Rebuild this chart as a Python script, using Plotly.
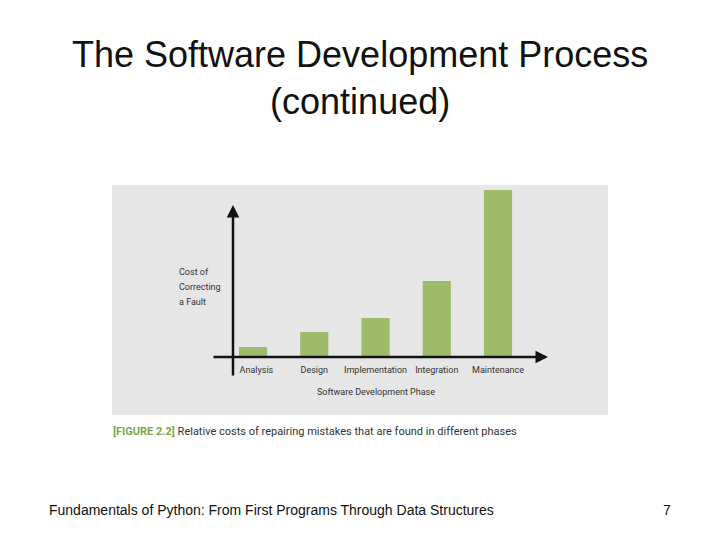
import plotly.graph_objects as go

phases = ["Analysis", "Design", "Implementation", "Integration", "Maintenance"]
tick_labels = ["\u00a0\u00a0\u00a0Analysis", "Design", "Implementation", "Integration", "Maintenance"]
costs = [10, 25, 39, 76, 167]
ylabel_lines = ["Cost of", "Correcting", "a Fault"]

W, H = 720, 540

def px(x):
    return x / W

def py(y):
    return 1 - y / H

fig = go.Figure()
fig.add_trace(go.Bar(
    x=list(range(len(phases))), y=costs,
    marker=dict(color="#9dbb68", line=dict(width=0)),
    width=0.46, hoverinfo="skip",
))

small_font = dict(family="Liberation Sans Narrow, Roboto, sans-serif", size=9, color="#333333")

fig.update_layout(
    width=W, height=H,
    margin=dict(l=0, r=0, t=0, b=0),
    paper_bgcolor="white", plot_bgcolor="rgba(0,0,0,0)",
    showlegend=False,
    font=dict(family="Liberation Sans, Arial, sans-serif"),
    xaxis=dict(
        domain=[px(212), px(547)], range=[-0.67, 4.8],
        tickmode="array", tickvals=list(range(len(phases))), ticktext=tick_labels,
        tickfont=small_font,
        showgrid=False, zeroline=False, showline=False, ticks="", ticklabelstandoff=6,
        fixedrange=True,
    ),
    yaxis=dict(
        domain=[py(357), py(185)], range=[0, 172],
        showgrid=False, zeroline=False, showline=False, showticklabels=False, ticks="",
        fixedrange=True,
    ),
    shapes=[
        dict(type="rect", xref="paper", yref="paper",
             x0=px(112), x1=px(608), y0=py(415), y1=py(185),
             fillcolor="#e6e6e6", line=dict(width=0), layer="below"),
    ],
)

ann = []
# axis arrows
ann.append(dict(xref="paper", yref="paper", x=px(548), y=py(357), ax=-336, ay=0,
                showarrow=True, arrowhead=2, arrowsize=1.0, arrowwidth=2.5,
                arrowcolor="#111111", text=""))
ann.append(dict(xref="paper", yref="paper", x=px(233), y=py(205), ax=0, ay=172,
                showarrow=True, arrowhead=2, arrowsize=1.0, arrowwidth=2.5,
                arrowcolor="#111111", text=""))
# y label lines
for i, line in enumerate(ylabel_lines):
    ann.append(dict(xref="paper", yref="paper", x=px(177), y=py(272 + 15 * i),
                    xanchor="left", yanchor="middle", text=line, showarrow=False,
                    font=small_font))
# x title
ann.append(dict(xref="paper", yref="paper", x=px(376), y=py(392), xanchor="center", yanchor="middle",
                text="Software Development Phase", showarrow=False, font=small_font))
# caption
ann.append(dict(xref="paper", yref="paper", x=px(111), y=py(431), xanchor="left", yanchor="middle",
                text="<span style='color:#7aa844'><b>[FIGURE 2.2]</b></span> Relative costs of repairing mistakes that are found in different phases",
                showarrow=False,
                font=dict(family="Liberation Sans Narrow, Roboto, sans-serif", size=11, color="#333333")))
# title
ann.append(dict(xref="paper", yref="paper", x=0.5, y=py(78), xanchor="center", yanchor="middle",
                text="The Software Development Process<br>(continued)", showarrow=False,
                font=dict(family="Liberation Sans, Arial, sans-serif", size=36, color="#111111")))
# footer
ann.append(dict(xref="paper", yref="paper", x=px(47), y=py(510), xanchor="left", yanchor="middle",
                text="Fundamentals of Python: From First Programs Through Data Structures", showarrow=False,
                font=dict(family="Liberation Sans, Arial, sans-serif", size=14, color="#111111")))
ann.append(dict(xref="paper", yref="paper", x=px(667), y=py(510), xanchor="center", yanchor="middle",
                text="7", showarrow=False,
                font=dict(family="Liberation Sans, Arial, sans-serif", size=14, color="#111111")))

fig.update_layout(annotations=ann)
fig.write_html("out.html")
